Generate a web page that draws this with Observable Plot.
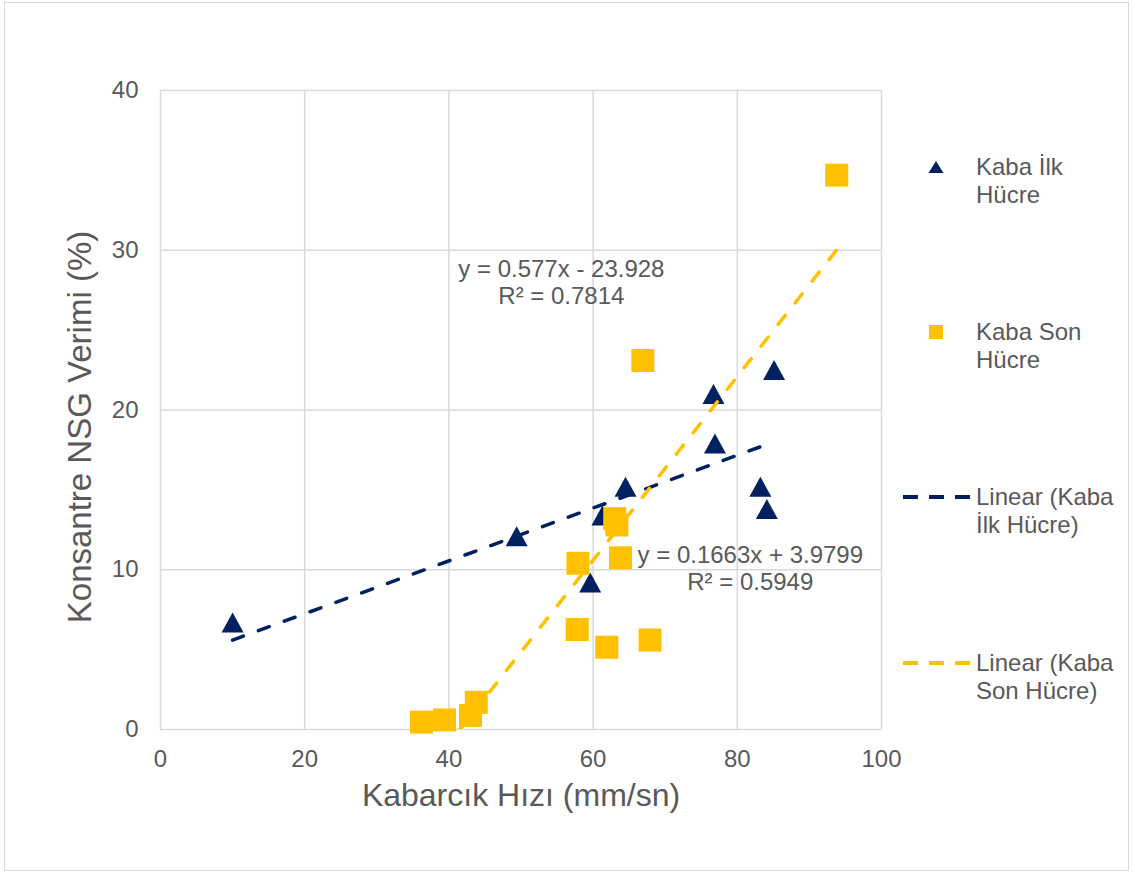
<!DOCTYPE html>
<html><head><meta charset="utf-8">
<script src="https://cdn.jsdelivr.net/npm/d3@7"></script>
<script src="https://cdn.jsdelivr.net/npm/@observablehq/plot@0.6"></script>
<style>
body{margin:0;background:#fff;font-family:"Liberation Sans",Arial,sans-serif;}
#wrap{position:relative;width:1134px;height:874px;overflow:hidden;}
#border{position:absolute;left:4px;top:2px;width:1125px;height:869px;border:1px solid #d9d9d9;box-sizing:border-box;}
#chart{position:absolute;left:0;top:0;}
.lg{position:absolute;font-size:24px;line-height:28px;color:#595959;width:150px;}
.lgm{position:absolute;}
</style></head><body>
<div id="wrap"><div id="border"></div><div id="chart"></div><div id="legend"></div></div>
<script>
// Kaba İlk Hücre (triangles)
const ilkX = [10.0, 49.4, 61.3, 64.5, 59.6, 76.7, 76.9, 85.1, 83.2, 84.1];
const ilkY = [6.7, 12.1, 13.4, 15.2, 9.2, 21.0, 17.9, 22.5, 15.2, 13.8];
// Kaba Son Hücre (squares)
const sonX = [36.2, 39.4, 43.0, 43.8, 57.9, 57.8, 61.9, 67.9, 63.8, 63.0, 63.3, 66.9, 93.8];
const sonY = [0.46, 0.6, 0.88, 1.7, 10.4, 6.26, 5.15, 5.6, 10.75, 13.2, 12.8, 23.1, 34.7];
const xTicks = [0, 20, 40, 60, 80, 100];
const yTicks = [0, 10, 20, 30, 40];
const seriesNames = ["Kaba İlk Hücre", "Kaba Son Hücre"];
const trendNames = ["Linear (Kaba İlk Hücre)", "Linear (Kaba Son Hücre)"];
const xTitle = "Kabarcık Hızı (mm/sn)";
const yTitle = "Konsantre NSG Verimi (%)";
const eqText = ["y = 0.577x - 23.928\nR² = 0.7814", "y = 0.1663x + 3.9799\nR² = 0.5949"];
const eqX = [55.6, 81.8];
const eqY = [28.0, 10.1];

const NAVY = "#002060", GOLD = "#FFC000", GRAY = "#595959", GRID = "#d9d9d9";
const ilk = ilkX.map((x, i) => ({x, y: ilkY[i]}));
const son = sonX.map((x, i) => ({x, y: sonY[i]}));
const eqs = eqText.map((t, i) => ({t, x: eqX[i], y: eqY[i]}));

const tri = {draw(c) { c.moveTo(0, -10); c.lineTo(11, 10); c.lineTo(-11, 10); c.closePath(); }};
const sq = {draw(c) { c.rect(-11.5, -11.5, 23, 23); }};

const plot = Plot.plot({
  width: 1134, height: 874,
  marginLeft: 160, marginRight: 253, marginTop: 90, marginBottom: 145,
  style: {fontFamily: '"Liberation Sans", Arial, sans-serif', background: "transparent", overflow: "visible"},
  x: {domain: [0, 100]},
  y: {domain: [0, 40]},
  marks: [
    Plot.gridX(xTicks, {stroke: GRID, strokeOpacity: 1, strokeWidth: 1.5}),
    Plot.gridY(yTicks, {stroke: GRID, strokeOpacity: 1, strokeWidth: 1.5}),
    Plot.axisX(xTicks, {tickSize: 0, tickPadding: 20, fontSize: 24, color: GRAY, label: null}),
    Plot.axisY(yTicks, {tickSize: 0, tickPadding: 22, fontSize: 24, color: GRAY, label: null}),
    Plot.text([xTitle], {text: d => d, frameAnchor: "bottom", textAnchor: "middle", dy: 76, fontSize: 32, fill: GRAY}),
    Plot.text([yTitle], {text: d => d, frameAnchor: "left", textAnchor: "middle", rotate: -90, dx: -80, dy: 17, fontSize: 33, fill: GRAY}),
    Plot.dot(ilk, {x: "x", y: "y", symbol: tri, r: 10, fill: NAVY, stroke: "none"}),
    Plot.dot(son, {x: "x", y: "y", symbol: sq, r: 12, fill: GOLD, stroke: "none"}),
    Plot.linearRegressionY(ilk, {x: "x", y: "y", stroke: NAVY, ci: 0, strokeWidth: 3.5, strokeDasharray: "11.5,16", strokeLinecap: "round", clip: true}),
    Plot.linearRegressionY(son, {x: "x", y: "y", stroke: GOLD, ci: 0, strokeWidth: 3.5, strokeDasharray: "11.5,16", strokeLinecap: "round", clip: true}),
    Plot.text(eqs, {x: "x", y: "y", text: "t", fontSize: 24, fill: GRAY, lineHeight: 1.12})
  ]
});
document.getElementById("chart").appendChild(plot);

// Legend
const lg = document.getElementById("legend");
const items = [
  {name: seriesNames[0], kind: "tri", c: NAVY, cy: 167},
  {name: seriesNames[1], kind: "sq", c: GOLD, cy: 332},
  {name: trendNames[0], kind: "line", c: NAVY, cy: 497},
  {name: trendNames[1], kind: "line", c: GOLD, cy: 663}
];
for (const it of items) {
  const m = document.createElementNS("http://www.w3.org/2000/svg", "svg");
  m.setAttribute("class", "lgm");
  m.setAttribute("width", 80); m.setAttribute("height", 20);
  m.style.left = "900px"; m.style.top = (it.cy - 10) + "px";
  let inner = "";
  if (it.kind === "tri") inner = `<path d="M36,4 L43.5,16 L28.5,16 Z" fill="${it.c}"/>`;
  else if (it.kind === "sq") inner = `<rect x="29" y="3" width="14" height="14" fill="${it.c}"/>`;
  else inner = `<line x1="3" x2="70" y1="10" y2="10" stroke="${it.c}" stroke-width="4" stroke-dasharray="15,11"/>`;
  m.innerHTML = inner;
  lg.appendChild(m);
  const t = document.createElement("div");
  t.className = "lg";
  t.style.left = "976px"; t.style.top = (it.cy - 14) + "px";
  t.textContent = it.name;
  lg.appendChild(t);
}
</script>
</body></html>
